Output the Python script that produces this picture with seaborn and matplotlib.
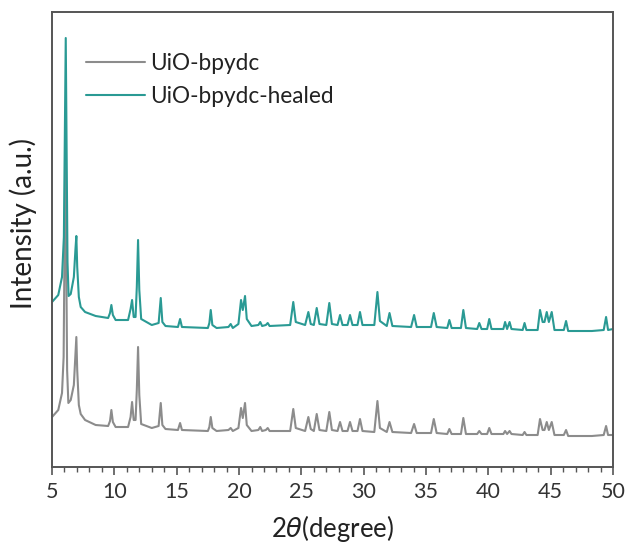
import numpy as np
import pandas as pd
import seaborn as sns
import matplotlib.pyplot as plt
from matplotlib.ticker import MultipleLocator

# Powder XRD patterns (2-theta in degrees, intensity in a.u., stacked)
two_theta_pristine = [
    5.0, 5.5, 5.8, 5.93, 6.0, 6.07, 6.14, 6.21, 6.31, 6.5, 6.75, 6.88, 6.95, 7.02,
    7.15, 7.3, 7.65, 8.5, 9.5, 9.65, 9.76, 9.88, 10.1, 11.1, 11.3, 11.42, 11.55, 11.7,
    11.8, 11.9, 12.0, 12.15, 13.0, 13.55, 13.72, 13.85, 14.1, 15.1, 15.27, 15.42, 17.5,
    17.62, 17.73, 17.86, 18.2, 19.15, 19.33, 19.5, 19.95, 20.16, 20.3, 20.48, 20.62,
    21.0, 21.55, 21.7, 21.85, 22.15, 22.3, 22.45, 24.1, 24.35, 24.55, 25.3, 25.56,
    25.75, 26.0, 26.23, 26.45, 27.0, 27.24, 27.45, 27.9, 28.1, 28.3, 28.7, 28.9, 29.1,
    29.5, 29.7, 29.9, 30.85, 31.1, 31.3, 31.85, 32.07, 32.3, 33.8, 34.04, 34.25, 35.4,
    35.62, 35.85, 36.7, 36.87, 37.05, 37.8, 37.99, 38.2, 39.1, 39.27, 39.45, 39.9,
    40.07, 40.25, 41.2, 41.34, 41.5, 41.7, 41.85, 42.75, 42.9, 43.05, 43.95, 44.14,
    44.35, 44.5, 44.68, 44.85, 45.08, 45.3, 46.05, 46.23, 46.4, 48.3, 49.25, 49.44,
    49.6, 50.0,
]
intensity_pristine = [
    50, 57, 74, 110, 220, 322, 207, 97, 64, 67, 82, 112, 130, 97,
    62, 53, 47, 42, 41, 46, 57, 45, 40, 40, 50, 65, 47, 47,
    77, 120, 72, 43, 39, 41, 64, 42, 38, 37, 44, 37, 36,
    40, 50, 39, 36, 37, 39, 36, 39, 59, 49, 64, 42,
    36, 37, 40, 36, 37, 39, 36, 36, 58, 39, 36, 50,
    38, 36, 53, 37, 36, 55, 37, 36, 45, 36, 36, 45, 36,
    36, 48, 36, 35, 66, 39, 35, 45, 35, 34, 43, 34, 34,
    48, 34, 33, 38, 33, 33, 49, 33, 33, 36, 33, 33,
    39, 33, 33, 36, 33, 36, 33, 32, 35, 32, 32, 48,
    37, 37, 45, 37, 45, 32, 32, 37, 31, 31, 32, 41,
    32, 32,
]

two_theta_healed = [
    5.0, 5.5, 5.8, 5.95, 6.03, 6.1, 6.17, 6.24, 6.33, 6.5, 6.75, 6.88, 6.95, 7.02,
    7.15, 7.3, 7.65, 8.5, 9.5, 9.65, 9.76, 9.88, 10.1, 11.1, 11.3, 11.42, 11.55, 11.7,
    11.8, 11.9, 12.0, 12.15, 13.0, 13.55, 13.72, 13.85, 14.1, 15.1, 15.27, 15.42, 17.5,
    17.62, 17.73, 17.86, 18.2, 19.15, 19.33, 19.5, 19.95, 20.16, 20.3, 20.48, 20.62,
    21.0, 21.55, 21.7, 21.85, 22.15, 22.3, 22.45, 24.1, 24.35, 24.55, 25.3, 25.56,
    25.75, 26.0, 26.23, 26.45, 27.0, 27.24, 27.45, 27.9, 28.1, 28.3, 28.7, 28.9, 29.1,
    29.5, 29.7, 29.9, 30.85, 31.1, 31.3, 31.85, 32.07, 32.3, 33.8, 34.04, 34.25, 35.4,
    35.62, 35.85, 36.7, 36.87, 37.05, 37.8, 37.99, 38.2, 39.1, 39.27, 39.45, 39.9,
    40.07, 40.25, 41.2, 41.34, 41.5, 41.7, 41.85, 42.75, 42.9, 43.05, 43.95, 44.14,
    44.35, 44.5, 44.68, 44.85, 45.08, 45.3, 46.05, 46.23, 46.4, 48.3, 49.25, 49.44,
    49.6, 50.0,
]
intensity_healed = [
    165, 172, 190, 230, 335, 429, 315, 205, 171, 173, 190, 218, 231, 200,
    170, 160, 155, 151, 149, 154, 162, 152, 147, 147, 158, 167, 150, 150,
    180, 227, 177, 148, 142, 144, 169, 145, 141, 140, 148, 140, 139,
    144, 157, 142, 139, 140, 143, 139, 143, 167, 157, 171, 148,
    141, 142, 145, 141, 142, 144, 141, 142, 165, 145, 142, 155,
    143, 142, 159, 143, 142, 164, 143, 142, 152, 142, 142, 152, 142,
    142, 155, 142, 142, 175, 146, 141, 154, 141, 140, 152, 140, 140,
    154, 140, 139, 147, 139, 139, 157, 139, 138, 144, 138, 138,
    148, 138, 138, 145, 138, 145, 138, 137, 144, 137, 137, 157,
    145, 145, 155, 145, 155, 137, 137, 146, 136, 136, 137, 150,
    137, 138,
]

labels = ["UiO-bpydc", "UiO-bpydc-healed"]
colors = ["#8c8c8c", "#2a9a94"]

df = pd.concat([
    pd.DataFrame({"two_theta": two_theta_pristine, "intensity": intensity_pristine, "sample": labels[0]}),
    pd.DataFrame({"two_theta": two_theta_healed, "intensity": intensity_healed, "sample": labels[1]}),
])

sns.set_style("white")
plt.rcParams["font.family"] = ["Lato", "DejaVu Sans"]
plt.rcParams["mathtext.fontset"] = "dejavusans"

fig = plt.figure(figsize=(6.33, 5.48), dpi=100)
ax = fig.add_axes([0.0822, 0.1478, 0.8863, 0.8303])

sns.lineplot(data=df, x="two_theta", y="intensity", hue="sample",
             hue_order=labels, palette=colors, linewidth=1.5,
             sort=False, estimator=None, ax=ax)

ax.set_xlim(5, 50)
ax.set_ylim(0, 455)
ax.xaxis.set_major_locator(MultipleLocator(5))
ax.xaxis.set_minor_locator(MultipleLocator(1))
ax.set_yticks([])
ax.tick_params(axis="x", which="major", direction="out", length=6, width=1.2,
               color="#555555", labelsize=15.5, labelcolor="#333333", pad=5, bottom=True)
ax.tick_params(axis="x", which="minor", direction="out", length=3.5, width=1.0,
               color="#555555", bottom=True)
for sp in ax.spines.values():
    sp.set_color("#555555")
    sp.set_linewidth(1.4)

ax.set_xlabel(r"2$\mathit{\theta}$(degree)", fontsize=18.5, color="#222222", labelpad=8)
ax.set_ylabel("Intensity (a.u.)", fontsize=20, color="#222222")
ax.yaxis.set_label_coords(-0.027, 0.535)

leg = ax.legend(loc="upper left", bbox_to_anchor=(0.0606, 0.91), frameon=False,
                fontsize=16.3, handlelength=2.6, handletextpad=0.25, labelspacing=0.55,
                borderpad=0, borderaxespad=0)
for t in leg.get_texts():
    t.set_color("#222222")

fig.savefig("out.png", dpi=100)
